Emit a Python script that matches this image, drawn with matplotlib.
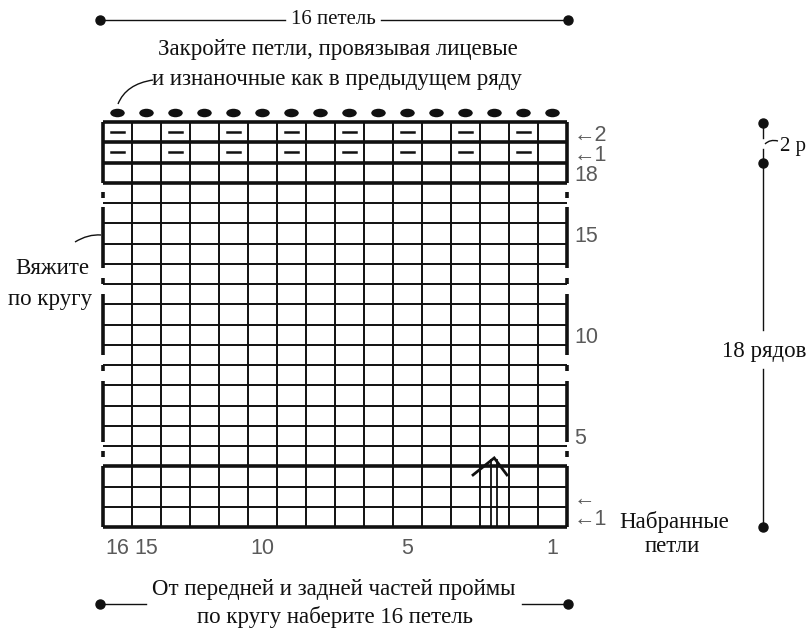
import matplotlib
matplotlib.use('Agg')
import matplotlib.pyplot as plt
from matplotlib.patches import Ellipse, PathPatch
from matplotlib.path import Path

# ---- chart content ----
n_cols = 16                       # stitches
n_rows = 20                       # 18 rows + 2 bind-off rows
purl_rows = [18, 19]              # bind-off rows (from bottom, 0-based)
purl_cols = [0, 2, 4, 6, 8, 10, 12, 14]
bindoff_cols = list(range(16))
col_label_text = ["16", "15", "10", "5", "1"]
col_label_pos = [0, 1, 5, 10, 15]
row_label_text = ["\u21902", "\u21901", "18", "15", "10", "5", "\u2190", "\u21901"]
row_label_pos = [19, 18, 17, 14, 9, 4, 1, 0]
border_segments = [(0, 3), (4.2, 7.2), (8.5, 11.5), (12.8, 15.8), (17, 20)]
border_ticks = [(3.45, 3.75), (7.7, 8.0), (12.0, 12.3), (16.25, 16.55)]
thick_hlines = [0, 3, 17, 18, 19, 20]
arrow_col = 13
arrow_top = 3.41

# ---- layout (pixel mapping) ----
PX_X0, PX_W = 103, 29.0
PX_Y0, PX_H = 527, 20.25
W, H = 811, 637


def X(px):
    return (px - PX_X0) / PX_W


def Y(py):
    return (PX_Y0 - py) / PX_H


SERIF = ['Liberation Serif', 'DejaVu Serif']
SANS = ['Liberation Sans Narrow', 'Liberation Sans', 'DejaVu Sans']
GRAY = '#5a5a5a'
INK = '#111111'
FS = 16.5

fig = plt.figure(figsize=(W / 100, H / 100), dpi=100)
ax = fig.add_axes([0, 0, 1, 1])
ax.set_xlim(X(0), X(W))
ax.set_ylim(Y(H), Y(0))
ax.axis('off')

thin, thick = 1.4, 2.6

# vertical grid lines
for j in range(1, n_cols):
    ax.plot([j, j], [0, n_rows], color=INK, lw=thin, solid_capstyle='butt')
# horizontal grid lines
for k in range(n_rows + 1):
    ax.plot([0, n_cols], [k, k], color=INK,
            lw=thick if k in thick_hlines else thin, solid_capstyle='butt')
# broken side borders
for a, b in border_segments + border_ticks:
    for xx in (0, n_cols):
        ax.plot([xx, xx], [a, b], color=INK, lw=thick, solid_capstyle='butt')

# purl dashes
for r in purl_rows:
    for c in purl_cols:
        ax.plot([c + 0.28, c + 0.72], [r + 0.5, r + 0.5], color=INK, lw=1.8)

# bind-off ovals
for c in bindoff_cols:
    ax.add_patch(Ellipse((c + 0.5, Y(113)), 0.5, 0.42, color=INK, lw=0))

# direction arrow
for dx in (0.38, 0.60):
    ax.plot([arrow_col + dx, arrow_col + dx], [0, arrow_top - 0.12],
            color=INK, lw=1.3)
ax.plot([arrow_col - 0.24, arrow_col + 0.49, arrow_col + 1.0 - 0.07],
        [arrow_top - 0.84, arrow_top, arrow_top - 0.84],
        color=INK, lw=2.0, solid_joinstyle='miter')

# column numbers
for t, c in zip(col_label_text, col_label_pos):
    ax.text(c + 0.5, Y(549), t, family=SANS, fontsize=15.5, color=GRAY,
            ha='center', va='center')
# row numbers
for t, r in zip(row_label_text, row_label_pos):
    ax.text(X(574), r + 0.5 - 0.15, t, family=SANS, fontsize=15.5, color=GRAY,
            ha='left', va='center')


def dot(px, py):
    ax.plot([X(px)], [Y(py)], 'o', color=INK, ms=6.5)


def seg(p0, p1, lw=1.0):
    ax.plot([X(p0[0]), X(p1[0])], [Y(p0[1]), Y(p1[1])], color=INK, lw=lw)


def curve(p0, pc, p1, lw=1.0):
    path = Path([(X(p0[0]), Y(p0[1])), (X(pc[0]), Y(pc[1])), (X(p1[0]), Y(p1[1]))],
                [Path.MOVETO, Path.CURVE3, Path.CURVE3])
    ax.add_patch(PathPatch(path, fill=False, color=INK, lw=lw))


# top width dimension
seg((100, 20), (285, 20))
seg((381, 20), (568, 20))
dot(100, 20)
dot(568, 20)
ax.text(X(333), Y(20), "16 петель", family=SERIF, fontsize=15, color=INK,
        ha='center', va='center')

# bind-off note
ax.text(X(338), Y(50), "Закройте петли, провязывая лицевые", family=SERIF,
        fontsize=FS, color=INK, ha='center', va='center')
ax.text(X(337), Y(79), "и изнаночные как в предыдущем ряду", family=SERIF,
        fontsize=FS, color=INK, ha='center', va='center')
curve((153, 80), (126, 84), (118, 104))

# knit in the round note
ax.text(X(52), Y(269), "Вяжите", family=SERIF, fontsize=FS, color=INK,
        ha='center', va='center')
ax.text(X(50), Y(300), "по кругу", family=SERIF, fontsize=FS, color=INK,
        ha='center', va='center')
curve((75, 242), (88, 234), (101, 235))

# cast-on note
ax.text(X(619), Y(522), "Набранные", family=SERIF, fontsize=FS, color=INK,
        ha='left', va='center')
ax.text(X(672), Y(546), "петли", family=SERIF, fontsize=FS, color=INK,
        ha='center', va='center')

# bottom dimension
seg((100, 604), (146, 604))
seg((522, 604), (568, 604))
dot(100, 604)
dot(568, 604)
ax.text(X(334), Y(590), "От передней и задней частей проймы", family=SERIF,
        fontsize=FS, color=INK, ha='center', va='center')
ax.text(X(335), Y(617), "по кругу наберите 16 петель", family=SERIF,
        fontsize=FS, color=INK, ha='center', va='center')

# right height dimension
RX = 763
seg((RX, 123), (RX, 138))
seg((RX, 149), (RX, 163))
curve((765, 144), (770, 139), (778, 141))
dot(RX, 123)
dot(RX, 163)
ax.text(X(780), Y(146), "2 р", family=SERIF, fontsize=15, color=INK,
        ha='left', va='center')
seg((RX, 163), (RX, 330))
seg((RX, 369), (RX, 527))
dot(RX, 527)
ax.text(X(764), Y(352), "18 рядов", family=SERIF, fontsize=FS, color=INK,
        ha='center', va='center')

fig.savefig('out.png', dpi=100, facecolor='white')
